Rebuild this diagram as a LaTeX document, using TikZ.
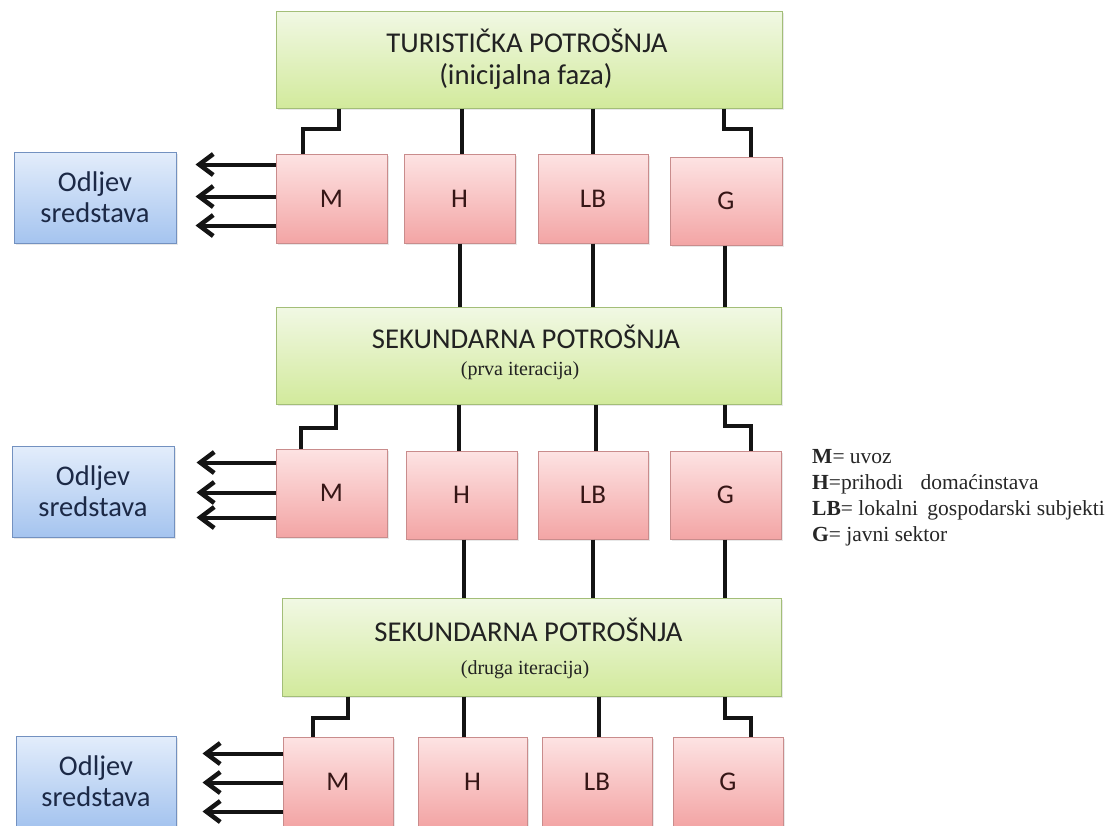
\documentclass[tikz,border=0pt]{standalone}
\usepackage{fontspec}
\setmainfont{Carlito}
\newfontfamily\tnr{Liberation Serif}
\usetikzlibrary{arrows.meta,calc,shadows}
\definecolor{gtop}{HTML}{F1F8E4}
\definecolor{gbot}{HTML}{D2EA9C}
\definecolor{gbrd}{HTML}{A3BE78}
\definecolor{ptop}{HTML}{FDE3E3}
\definecolor{pbot}{HTML}{F3A5A5}
\definecolor{pbrd}{HTML}{C98C8C}
\definecolor{btop}{HTML}{E3EDFB}
\definecolor{bbot}{HTML}{A5C4EF}
\definecolor{bbrd}{HTML}{7391C0}
\definecolor{gtxt}{HTML}{222222}
\definecolor{ptxt}{HTML}{361616}
\definecolor{btxt}{HTML}{1C2946}
\begin{document}
\begin{tikzpicture}[x=1pt,y=-1pt,
  shade/.style={drop shadow={opacity=0.18, shadow xshift=1.5pt, shadow yshift=-2pt}},
  greenbox/.style={shade, draw=gbrd, line width=1pt, top color=gtop, bottom color=gbot, inner sep=0pt},
  pinkbox/.style={shade, draw=pbrd, line width=1pt, top color=ptop, bottom color=pbot, inner sep=0pt, text=ptxt, font=\fontsize{27}{32}\selectfont},
  bluebox/.style={shade, draw=bbrd, line width=1pt, top color=btop, bottom color=bbot, inner sep=0pt, text=btxt, align=center, font=\fontsize{28.5}{31}\selectfont},
  conn/.style={line width=4pt, draw=black!92},
  arr/.style={line width=4pt, draw=black!92, -{Straight Barb[length=14pt,width=21pt,line width=4.5pt]}},
  ttl/.style={anchor=base, text=gtxt, inner sep=0pt, font=\fontsize{28.7}{33}\selectfont},
  ttlserif/.style={anchor=base, text=gtxt, inner sep=0pt, font=\tnr\fontsize{20}{24}\selectfont},
  leg/.style={anchor=base west, inner sep=0pt, text=black!85, font=\tnr\fontsize{21.5}{26}\selectfont}
]
\useasboundingbox (0,0) rectangle (1115,825);
\clip (0,0) rectangle (1115,825);
\fill[white] (0,0) rectangle (1115,825);

% ---------- row 1 ----------
\node[greenbox, minimum width=506pt, minimum height=97pt] (t1) at (529,59.5) {};
\node[ttl] (t1a) at (527,52) {TURISTIČKA POTROŠNJA};
\node[ttl] (t1b) at (526,84) {(inicijalna faza)};
\node[pinkbox, minimum width=111pt, minimum height=89pt] (m1) at (331.5,198.5) {M};
\node[pinkbox, minimum width=111pt, minimum height=89pt] (h1) at (459.5,198.5) {H};
\node[pinkbox, minimum width=110pt, minimum height=89pt] (lb1) at (593,198.5) {LB};
\node[pinkbox, minimum width=112pt, minimum height=88pt] (gg1) at (726,201) {G};
\node[bluebox, minimum width=162pt, minimum height=91pt] (b1) at (95,197.5) {Odljev\\sredstava};

% ---------- row 2 ----------
\node[greenbox, minimum width=505pt, minimum height=97pt] (t2) at (528.5,355.5) {};
\node[ttl] (t2a) at (526,348) {SEKUNDARNA POTROŠNJA};
\node[ttlserif] (t2b) at (520,375) {(prva iteracija)};
\node[pinkbox, minimum width=111pt, minimum height=88pt] (m2) at (331.5,493) {M};
\node[pinkbox, minimum width=111pt, minimum height=88pt] (h2) at (461.5,495) {H};
\node[pinkbox, minimum width=110pt, minimum height=88pt] (lb2) at (593,495) {LB};
\node[pinkbox, minimum width=111pt, minimum height=88pt] (gg2) at (725.5,495) {G};
\node[bluebox, minimum width=162pt, minimum height=91pt] (b2) at (93,491.5) {Odljev\\sredstava};

% ---------- row 3 ----------
\node[greenbox, minimum width=499pt, minimum height=98pt] (t3) at (531.5,647) {};
\node[ttl] (t3a) at (528.5,641) {SEKUNDARNA POTROŠNJA};
\node[ttlserif] (t3b) at (525,674) {(druga iteracija)};
\node[pinkbox, minimum width=110pt, minimum height=89pt] (m3) at (338,781.5) {M};
\node[pinkbox, minimum width=109pt, minimum height=89pt] (h3) at (472.5,781.5) {H};
\node[pinkbox, minimum width=110pt, minimum height=89pt] (lb3) at (597,781.5) {LB};
\node[pinkbox, minimum width=110pt, minimum height=89pt] (gg3) at (728,781.5) {G};
\node[bluebox, minimum width=160pt, minimum height=90pt] (b3) at (96,781) {Odljev\\sredstava};

% ---------- connectors row 1 ----------
\draw[conn] ($(t1.south west)+(63,0)$) -- ++(0,20) -| ($(m1.north west)+(27,0)$);
\draw[conn] ($(t1.south west)+(186,0)$) coordinate (c) -- (c |- h1.north);
\draw[conn] ($(t1.south west)+(317,0)$) coordinate (c) -- (c |- lb1.north);
\draw[conn] ($(t1.south west)+(448,0)$) -- ++(0,20) -| ($(gg1.north west)+(81,0)$);
\draw[conn] ($(h1.south west)+(56,0)$) coordinate (c) -- (c |- t2.north);
\draw[conn] ($(lb1.south west)+(55,0)$) coordinate (c) -- (c |- t2.north);
\draw[conn] ($(gg1.south west)+(55,0)$) coordinate (c) -- (c |- t2.north);

% ---------- connectors row 2 ----------
\draw[conn] ($(t2.south west)+(60,0)$) -- ++(0,23) -| ($(m2.north west)+(25,0)$);
\draw[conn] ($(t2.south west)+(183,0)$) coordinate (c) -- (c |- h2.north);
\draw[conn] ($(t2.south west)+(320,0)$) coordinate (c) -- (c |- lb2.north);
\draw[conn] ($(t2.south west)+(449,0)$) -- ++(0,21) -| ($(gg2.north west)+(81,0)$);
\draw[conn] ($(h2.south west)+(58,0)$) coordinate (c) -- (c |- t3.north);
\draw[conn] ($(lb2.south west)+(55,0)$) coordinate (c) -- (c |- t3.north);
\draw[conn] ($(gg2.south west)+(55,0)$) coordinate (c) -- (c |- t3.north);

% ---------- connectors row 3 ----------
\draw[conn] ($(t3.south west)+(66,0)$) -- ++(0,21) -| ($(m3.north west)+(30,0)$);
\draw[conn] ($(t3.south west)+(182,0)$) coordinate (c) -- (c |- h3.north);
\draw[conn] ($(t3.south west)+(317,0)$) coordinate (c) -- (c |- lb3.north);
\draw[conn] ($(t3.south west)+(443,0)$) -- ++(0,21) -| ($(gg3.north west)+(78,0)$);

% ---------- outflow arrows ----------
\draw[arr, shorten >=19pt] ($(m1.north west)+(0,11)$) coordinate (a) -- (a -| b1.east);
\draw[arr, shorten >=19pt] ($(m1.north west)+(0,43)$) coordinate (a) -- (a -| b1.east);
\draw[arr, shorten >=19pt] ($(m1.north west)+(0,72)$) coordinate (a) -- (a -| b1.east);
\draw[arr, shorten >=22pt] ($(m2.north west)+(0,14)$) coordinate (a) -- (a -| b2.east);
\draw[arr, shorten >=22pt] ($(m2.north west)+(0,44)$) coordinate (a) -- (a -| b2.east);
\draw[arr, shorten >=22pt] ($(m2.north west)+(0,69)$) coordinate (a) -- (a -| b2.east);
\draw[arr, shorten >=26pt] ($(m3.north west)+(0,17)$) coordinate (a) -- (a -| b3.east);
\draw[arr, shorten >=26pt] ($(m3.north west)+(0,46)$) coordinate (a) -- (a -| b3.east);
\draw[arr, shorten >=26pt] ($(m3.north west)+(0,75)$) coordinate (a) -- (a -| b3.east);

% ---------- legend ----------
\node[leg] (l1) at (812,463) {\textbf{M}= uvoz};
\node[leg] (l2) at (812,489) {\textbf{H}=prihodi\hspace{12pt} domaćinstava};
\node[leg] (l3) at (812,515) {\textbf{LB}= lokalni\hspace{4pt} gospodarski subjekti};
\node[leg] (l4) at (812,541) {\textbf{G}= javni sektor};
\end{tikzpicture}
\end{document}
